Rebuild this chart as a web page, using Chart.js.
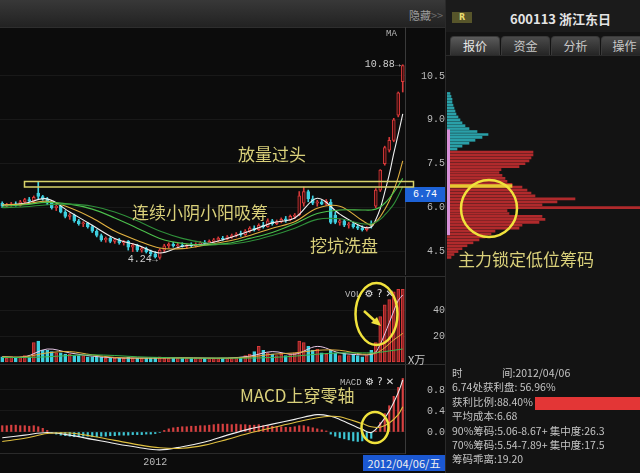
<!DOCTYPE html>
<html><head><meta charset="utf-8">
<script src="https://cdn.jsdelivr.net/npm/chart.js@4.4.1/dist/chart.umd.min.js"></script>
<style>
html,body{margin:0;padding:0;background:#0c0c0c;width:640px;height:473px;overflow:hidden;}
#root{position:relative;width:640px;height:473px;background:#0c0c0c;font-family:"Noto Sans CJK SC","Noto Sans",sans-serif;}
.a{position:absolute;white-space:nowrap;}
canvas{position:absolute;}
.ann{position:absolute;white-space:nowrap;color:#d9d07a;font-size:17px;line-height:17px;font-family:"Noto Sans CJK SC",sans-serif;}
.tab{position:absolute;top:36px;height:18px;background:linear-gradient(#4a4a4a,#252525);border:1px solid #3a3a3a;border-bottom:none;border-radius:4px 4px 0 0;color:#c8c8c8;font-size:12px;line-height:18px;text-align:center;}
.info{position:absolute;left:452px;font-size:10.5px;line-height:14px;color:#c4c4c4;white-space:nowrap;}
.ic{font-family:"DejaVu Sans",sans-serif;color:#e0e0e0;font-size:10px;}
.lbl{font-family:"Liberation Mono",monospace;color:#b8b8b8;font-size:9px;}
</style>
</head><body><div id="root">
<div class="a" style="left:0;top:0;width:445px;height:27px;background:linear-gradient(#383838,#222);border-bottom:1px solid #2e2e2e;"></div>
<div class="a" style="left:409px;top:7px;font-size:11px;color:#9c9c9c;">隐藏<span style="color:#6a6a6a">&gt;&gt;</span></div>
<div class="a" style="left:445px;top:0;width:195px;height:473px;background:#131313;border-left:1px solid #2a2a2a;"></div>
<div class="a" style="left:446px;top:0;width:194px;height:32px;background:#1b1b1b;"></div>
<div class="a" style="left:452px;top:12px;width:20px;height:11px;background:#57552a;color:#e8dc70;font:bold 8px/11px 'DejaVu Sans',sans-serif;text-align:center;">R</div>
<div class="a" style="left:510px;top:9px;font-weight:bold;font-size:13px;color:#e4e4e4;">600113 浙江东日</div>
<div class="tab" style="left:450px;width:48px;background:linear-gradient(#5a5a5a,#2e2e2e);color:#e8e8e8;">报价</div>
<div class="tab" style="left:501px;width:47px;">资金</div>
<div class="tab" style="left:551px;width:47px;">分析</div>
<div class="tab" style="left:601px;width:45px;">操作</div>
<div class="a" style="left:446px;top:55px;width:194px;height:1px;background:#2a2a2a;"></div>

<canvas id="price" width="445" height="248" style="left:0;top:27px"></canvas>
<canvas id="vol" width="445" height="87" style="left:0;top:277px"></canvas>
<canvas id="macd" width="445" height="109" style="left:0;top:364px"></canvas>
<canvas id="chip" width="193" height="248" style="left:447px;top:27px"></canvas>

<div class="a" style="left:0;top:276px;width:445px;height:1px;background:#2e2e2e;"></div>
<div class="a" style="left:0;top:364px;width:445px;height:1px;background:#2e2e2e;"></div>
<div class="a" style="left:0;top:453px;width:405px;height:1px;background:#2a2a2a;"></div>

<div class="a lbl" style="left:386px;top:29px;">MA</div>
<div class="a" style="left:345px;top:278px;"><span class="lbl">VOL</span> <span class="ic">⚙ ? ✕</span></div>
<div class="a" style="left:340px;top:366px;"><span class="lbl">MACD</span> <span class="ic">⚙ ? ✕</span></div>
<div class="a" style="left:408px;top:351px;font-size:11px;color:#c8c8c8;">X万</div>
<div class="a" id="lastBox" style="left:405px;top:187px;width:40px;height:15px;background:#1d62d6;color:#fff;font:10px/15px 'Liberation Mono',monospace;text-align:center;">6.74</div>
<div class="a" style="left:363px;top:455px;width:82px;height:16px;background:#1b58d2;color:#f0f0f0;font-size:11px;line-height:16px;text-align:center;">2012/04/06/五</div>

<div class="ann" style="left:238px;top:145px;">放量过头</div>
<div class="ann" style="left:132px;top:203px;">连续小阴小阳吸筹</div>
<div class="ann" style="left:310px;top:236px;">挖坑洗盘</div>
<div class="ann" style="left:240px;top:386px;">MACD上穿零轴</div>
<div class="ann" style="left:458px;top:250px;">主力锁定低位筹码</div>

<div class="info" style="top:366px;"><span style="display:inline-block;width:50px;">时</span>间:2012/04/06</div>
<div class="info" style="top:380px;">6.74处获利盘: 56.96%</div>
<div class="info" style="top:395px;">获利比例:88.40%</div>
<div class="a" style="left:535px;top:397px;width:105px;height:13px;background:#e33636;"></div>
<div class="info" style="top:409px;">平均成本:6.68</div>
<div class="info" style="top:424px;">90%筹码:5.06-8.67+ 集中度:26.3</div>
<div class="info" style="top:438px;">70%筹码:5.54-7.89+ 集中度:17.5</div>
<div class="info" style="top:452px;">筹码乖离:19.20</div>

<svg class="a" style="left:0;top:0;" width="640" height="473">
<rect x="24.5" y="181.5" width="389" height="5.5" fill="none" stroke="#d8d26a" stroke-width="1.5"/>
<ellipse cx="376.5" cy="314" rx="21" ry="31" fill="none" stroke="#f0e23c" stroke-width="2.5"/>
<ellipse cx="375" cy="427.5" rx="13.5" ry="15.5" fill="none" stroke="#f0e23c" stroke-width="2.5"/>
<ellipse cx="489" cy="208.5" rx="28" ry="28.5" fill="none" stroke="#f0e23c" stroke-width="2.5"/>
<line x1="364" y1="311" x2="375" y2="321" stroke="#f0e23c" stroke-width="2.5"/>
<polygon points="381,326 371,323 377,317" fill="#f0e23c"/>
</svg>
</div>
<script>
// ---------- data ----------
const candleOpen  = [6.15,6.05,6.10,6.12,6.08,6.20,6.28,6.22,6.50,6.38, 6.30,6.15,6.00,6.05,5.85,5.70,5.75,5.55,5.45,5.48, 5.35,5.20,5.05,4.90,4.95,4.85,4.90,4.80,4.85,4.65, 4.72,4.55,4.60,4.50,4.42,4.30,4.55,4.70,4.75,4.70, 4.72,4.68,4.72,4.70,4.76,4.80,4.78,4.85,4.90,4.95, 4.92,5.00,5.05,5.10,5.08,5.20,5.30,5.25,5.40,5.35, 5.55,5.45,5.52,5.60,5.58,5.70,5.75,6.15,6.55,6.30, 6.15,6.20,6.12,6.18,5.75,5.50,5.55,5.40,5.45,5.35, 5.30,5.25,5.45,6.05,6.60,7.50,7.96,8.30,9.16,10.30];
const candleHigh  = [6.20,6.15,6.18,6.20,6.25,6.32,6.35,6.40,6.88,6.42, 6.35,6.20,6.10,6.08,5.90,5.80,5.78,5.60,5.52,5.50, 5.40,5.25,5.10,5.00,5.00,4.95,4.95,4.88,4.88,4.78, 4.75,4.65,4.65,4.55,4.50,4.60,4.75,4.80,4.82,4.78, 4.80,4.75,4.80,4.80,4.85,4.88,4.90,4.95,5.00,5.02, 5.05,5.10,5.15,5.20,5.25,5.35,5.38,5.45,5.50,5.62, 5.60,5.58,5.65,5.70,5.75,5.80,6.55,6.70,6.60,6.40, 6.25,6.25,6.28,6.28,5.85,5.60,5.60,5.50,5.50,5.40, 5.38,5.35,5.55,6.65,7.30,8.10,8.40,9.05,9.95,10.88];
const candleLow   = [6.00,6.00,6.05,6.05,6.05,6.15,6.18,6.20,6.30,6.25, 6.10,5.95,5.90,5.82,5.65,5.60,5.50,5.40,5.35,5.30, 5.15,5.00,4.85,4.82,4.80,4.78,4.75,4.72,4.55,4.50, 4.50,4.48,4.45,4.35,4.28,4.24,4.50,4.62,4.65,4.62, 4.65,4.60,4.66,4.65,4.70,4.74,4.75,4.80,4.85,4.88, 4.90,4.95,5.00,5.02,5.05,5.15,5.20,5.22,5.30,5.33, 5.40,5.42,5.48,5.50,5.55,5.62,5.72,6.05,6.20,6.10, 6.05,6.10,6.08,5.45,5.45,5.40,5.35,5.30,5.30,5.25, 5.20,5.20,5.30,6.00,6.55,7.45,7.90,8.25,9.10,9.95];
const candleClose = [6.05,6.10,6.12,6.08,6.20,6.28,6.22,6.35,6.38,6.30, 6.15,6.00,6.05,5.85,5.70,5.75,5.55,5.45,5.48,5.35, 5.20,5.05,4.90,4.95,4.85,4.90,4.80,4.85,4.65,4.72, 4.55,4.60,4.50,4.42,4.32,4.55,4.70,4.75,4.70,4.72, 4.68,4.72,4.70,4.76,4.80,4.78,4.85,4.90,4.95,4.92, 5.00,5.05,5.10,5.08,5.20,5.30,5.25,5.40,5.35,5.55, 5.45,5.52,5.60,5.58,5.70,5.75,6.40,6.55,6.30,6.15, 6.20,6.12,6.22,5.50,5.50,5.55,5.40,5.45,5.35,5.30, 5.25,5.32,5.40,6.60,7.28,8.05,8.30,9.00,9.92,10.85];
const volume = [4,3,4,3,4,5,4,15,16,9, 9,8,7,7,6,6,5,5,5,4, 4,4,3.5,3,3,3,3,3,3.5,3, 3,3,3,3,3.5,4,3,3,3,3, 3,3,3,3,3,3,3,3,3,3, 3,3,3.5,3.5,5,6,8,12,9,7, 6,5,6,5,6,7,16,15,12,9, 10,7,6,9,7,5,7,5,6,5, 4,5,9,15,35,44,48,54,56,56];
const macdHist = [0.12,0.12,0.13,0.13,0.12,0.12,0.11,0.12,0.10,0.07, 0.03,-0.02,-0.04,-0.06,-0.07,-0.08,-0.09,-0.09,-0.08,-0.08, -0.09,-0.09,-0.08,-0.08,-0.07,-0.07,-0.06,-0.06,-0.06,-0.05, -0.05,-0.05,-0.04,-0.04,-0.03,-0.01,0.03,0.06,0.08,0.09, 0.10,0.10,0.11,0.11,0.12,0.12,0.13,0.14,0.15,0.15, 0.15,0.14,0.15,0.14,0.14,0.13,0.13,0.14,0.12,0.12, 0.11,0.10,0.10,0.09,0.09,0.10,0.12,0.12,0.10,0.08, 0.06,0.04,0.02,-0.04,-0.08,-0.11,-0.13,-0.15,-0.17,-0.18, -0.17,-0.15,-0.12,0.02,0.18,0.35,0.50,0.68,0.85,1.02];

const maIdx = [0,5,10,15,20,25,30,35,40,45,50,55,60,65,70,75,80,82,83,84,85,86,87,88,89];
const ma5  = [6.08,6.15,6.30,5.85,5.40,4.95,4.72,4.45,4.68,4.76,4.95,5.20,5.48,5.65,6.32,5.78,5.35,5.34,5.59,5.97,6.53,7.13,7.85,8.51,9.20];
const ma10 = [6.10,6.12,6.22,6.00,5.65,5.20,4.88,4.62,4.60,4.72,4.85,5.05,5.30,5.52,5.98,6.05,5.56,5.40,5.51,5.69,5.94,6.23,6.59,7.04,7.60];
const ma20 = [6.05,6.10,6.18,6.12,5.95,5.65,5.30,4.95,4.78,4.72,4.78,4.95,5.15,5.45,5.80,5.92,5.92,5.92,5.95,6.02,6.15,6.32,6.52,6.75,7.00];
const ma30 = [6.00,6.03,6.10,6.12,6.05,5.85,5.55,5.20,4.95,4.80,4.75,4.85,5.05,5.30,5.60,5.62,5.45,5.45,5.50,5.60,5.75,5.92,6.12,6.40,6.72];
const volMa5  = [4,4,10,7,4.5,3.2,3,3.2,3.2,3,3,4.5,8,6,12,7,5.5,5.8,7.6,13.6,21.6,30.2,39.2,47.4,51.6];
const volMa10 = [4,4,7,8,5.5,3.5,3,3,3.2,3,3,3.8,6,7,9,9,6,6.2,6.8,8.5,11,14,17,19.5,22];
const volMa20 = [3.5,3.5,4,5,5.5,5,4,3.5,3,3,3,3,3.5,4.5,6,7,7,7,7,7.5,8,8.5,9,9.5,10];

const macdIdx = [0,5,10,15,20,25,30,35,40,45,50,55,60,65,70,73,75,80,82,84,86,88,89];
const dif = [-0.11,-0.06,-0.01,-0.06,-0.14,-0.22,-0.29,-0.34,-0.28,-0.19,-0.06,0.06,0.15,0.24,0.33,0.30,0.24,0.05,-0.01,0.15,0.40,0.75,0.99];
const dea = [-0.18,-0.12,-0.03,-0.02,-0.08,-0.16,-0.24,-0.30,-0.31,-0.25,-0.14,-0.02,0.08,0.18,0.27,0.30,0.29,0.16,0.10,0.09,0.17,0.33,0.48];

const priceTicks = [4.5, 6.0, 7.5, 9.0, 10.5];
const volTicks = [20, 40];
const macdTicks = [0.0, 0.4, 0.8];
const yearTickIdx = [34];
const yearTickLabels = ['2012'];

const chipPrice  = [9.9,9.8,9.7,9.6,9.5,9.4,9.3,9.2,9.1,9.0, 8.9,8.8,8.7,8.6,8.5,8.4,8.3,8.2,8.1,8.0, 7.9,7.8,7.7,7.6,7.5,7.4,7.3,7.2,7.1,7.0, 6.9,6.8,6.7,6.6,6.5,6.4,6.3,6.2,6.1,6.0, 5.9,5.8,5.7,5.6,5.5,5.4,5.3,5.2,5.1,5.0, 4.9,4.8,4.7,4.6,4.5,4.4,4.3];
const chipAmount = [3,4,5,5,6,7,8,9,11,13, 15,18,22,30,41,35,28,22,15,10, 86,86,84,82,78,72,54,52,55,58, 60,65,75,80,84,88,128,110,95,193, 60,62,95,98,92,75,72,48,44,38, 32,26,20,15,11,7,4];
const chipSplitPrice = 7.95;
const lastPrice = 6.74;
const costLineAmount = 65;
const chip90Range = [5.06, 8.67];

// ---------- helpers ----------
const N = candleOpen.length;
const UP = '#d83a3a', UPFILL = '#3a0d0d', DOWN = '#3fcfdf';
const isUp = candleClose.map((c,i)=> c >= candleOpen[i]);
const pts = (idx, vals) => idx.map((x,i)=>({x, y: vals[i]}));
const tickFont = {family:'Liberation Mono', size:10};

function rightAxis(min, max, ticks, pad, fmt){
  return {
    type:'linear', position:'right', min, max, offset:false,
    afterBuildTicks(s){ s.ticks = ticks.map(v=>({value:v})); },
    afterFit(s){ s.width = 40; s.paddingTop = 0; s.paddingBottom = 0; },
    grid:{color:'#191919', drawTicks:false, offset:false},
    border:{display:true, color:'#3a3a3a'},
    ticks:{color:'#bcbcbc', font:tickFont, padding:pad, crossAlign:'far', autoSkip:false, callback:fmt}
  };
}
const xHidden = {type:'linear', min:-0.5, max:N-0.5, offset:false, display:false, grid:{offset:false}};
const common = {responsive:false, animation:false, events:[], devicePixelRatio:1,
  layout:{padding:0}, plugins:{legend:{display:false}, tooltip:{enabled:false}}};

const extremes = {
  id:'extremes',
  afterDatasetsDraw(chart){
    const {ctx, scales:{x,y}} = chart;
    let hi = 0, lo = 0;
    candleHigh.forEach((v,i)=>{ if (v > candleHigh[hi]) hi = i; });
    candleLow.forEach((v,i)=>{ if (v < candleLow[lo]) lo = i; });
    ctx.save();
    ctx.font = '10px "Liberation Mono"'; ctx.fillStyle = '#d0d0d0';
    ctx.textAlign = 'right'; ctx.textBaseline = 'middle';
    ctx.fillText(candleHigh[hi].toFixed(2)+'→', x.getPixelForValue(hi)-2, y.getPixelForValue(candleHigh[hi]));
    ctx.fillText(candleLow[lo].toFixed(2)+'→', x.getPixelForValue(lo)-2, y.getPixelForValue(candleLow[lo]));
    ctx.restore();
  }
};

const line = (data, color, w) => ({type:'line', data, borderColor:color, borderWidth:w||1.1, pointRadius:0, tension:0.35, order:0});

// ---------- price chart ----------
const priceChart = new Chart(document.getElementById('price'), {
  type:'bar',
  data:{datasets:[
    line(pts(maIdx, ma30), '#2f8f3a'),
    line(pts(maIdx, ma20), '#4cc04c'),
    line(pts(maIdx, ma10), '#e0b040'),
    line(pts(maIdx, ma5), '#f0f0f0'),
    {type:'bar', order:1, grouped:false, barThickness:3, minBarLength:1, borderSkipped:false, borderWidth:1,
     data: candleOpen.map((o,i)=>({x:i, y:[Math.min(o,candleClose[i]), Math.max(o,candleClose[i])]})),
     backgroundColor: isUp.map(u=>u?UPFILL:DOWN), borderColor: isUp.map(u=>u?UP:DOWN)},
    {type:'bar', order:2, grouped:false, barThickness:1, borderWidth:0,
     data: candleLow.map((l,i)=>({x:i, y:[l, candleHigh[i]]})),
     backgroundColor: isUp.map(u=>u?UP:DOWN)}
  ]},
  options:{...common,
    scales:{x:xHidden, y: rightAxis(3.70, 12.17, priceTicks, 12, v=>v.toFixed(1))}},
  plugins:[extremes]
});
const ly = priceChart.scales.y.getPixelForValue(lastPrice);
document.getElementById('lastBox').style.top = (27 + ly + 1) + 'px';

// ---------- volume chart ----------
new Chart(document.getElementById('vol'), {
  type:'bar',
  data:{datasets:[
    line(pts(maIdx, volMa20), '#3cb84c', 1),
    line(pts(maIdx, volMa10), '#e0b040', 1),
    line(pts(maIdx, volMa5), '#e8c8e8', 1),
    {type:'bar', order:1, grouped:false, barThickness:3, borderWidth:1, borderSkipped:false,
     data: volume.map((v,i)=>({x:i, y:v})),
     backgroundColor: isUp.map(u=>u?'#8e2424':DOWN), borderColor: isUp.map(u=>u?UP:DOWN)}
  ]},
  options:{...common, scales:{x:xHidden, y: rightAxis(-1.54, 65.4, volTicks, 23, v=>String(v))}}
});

// ---------- MACD chart ----------
new Chart(document.getElementById('macd'), {
  type:'bar',
  data:{datasets:[
    line(pts(macdIdx, dea), '#e0c040', 1.1),
    line(pts(macdIdx, dif), '#f0f0f0', 1.1),
    {type:'bar', order:1, grouped:false, barThickness:1.5, borderWidth:0,
     data: macdHist.map((v,i)=>({x:i, y:v})),
     backgroundColor: macdHist.map(v=>v>=0?'#d84040':'#3fc8d6')}
  ]},
  options:{...common, scales:{
    x:{type:'linear', min:-0.5, max:N-0.5, position:'bottom', offset:false,
       afterBuildTicks(s){ s.ticks = yearTickIdx.map(v=>({value:v})); },
       afterFit(s){ s.height = 20; s.paddingLeft = 0; s.paddingRight = 0; },
       grid:{display:false, drawTicks:false, tickLength:0, offset:false}, border:{display:false},
       ticks:{color:'#bcbcbc', font:{family:'Liberation Mono', size:10}, padding:3, autoSkip:false, maxRotation:0,
              callback:(v,i)=>yearTickLabels[i]}},
    y: rightAxis(-0.40, 1.295, macdTicks, 17, v=>v.toFixed(1))}}
});

// ---------- chip distribution ----------
new Chart(document.getElementById('chip'), {
  type:'bar',
  data:{datasets:[
    {type:'line', indexAxis:'x', data:[{x:1.5,y:chip90Range[0]},{x:1.5,y:chip90Range[1]}],
     borderColor:'#d890d8', borderWidth:3, pointRadius:0, order:0},
    {type:'bar', indexAxis:'y', grouped:false, barThickness:3, order:1,
     data:[{x:costLineAmount, y:lastPrice}], backgroundColor:'#e6c832'},
    {type:'bar', indexAxis:'y', grouped:false, barThickness:2, order:2,
     data: chipPrice.map((p,i)=>({x:chipAmount[i], y:p})),
     backgroundColor: chipPrice.map(p=>p>chipSplitPrice?'#2aa0a8':'#b02a2c')}
  ]},
  options:{...common, scales:{
    x:{type:'linear', min:0, max:193, offset:false, display:false, grid:{offset:false}},
    y:{type:'linear', min:3.70, max:12.17, offset:false, display:false, grid:{offset:false}}}}
});
</script>
</body></html>
